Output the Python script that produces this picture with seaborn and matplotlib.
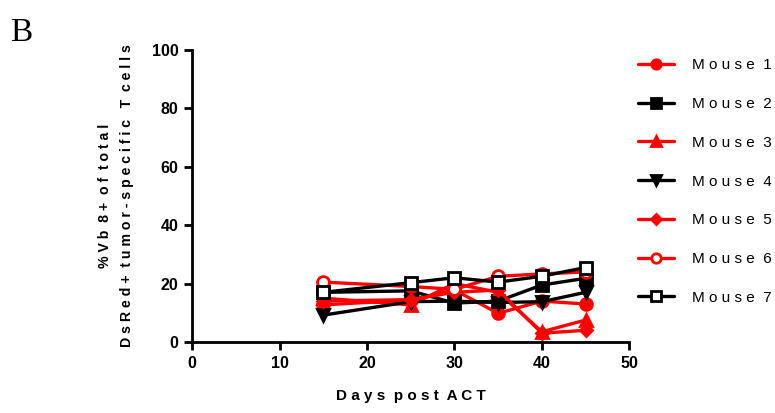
import pandas as pd
import matplotlib
matplotlib.use("Agg")
import matplotlib.pyplot as plt
import seaborn as sns

# ----------------------------------------------------
# Data
# ----------------------------------------------------
days = [15, 25, 30, 35, 40, 45]
mouse_1 = [12.7, 14.4, 17.8, 9.8, 14.0, 13.0]
mouse_2 = [17.0, 17.5, 13.3, 14.0, 19.5, 21.8]
mouse_3 = [15.0, 12.7, 20.0, 17.0, 3.5, 7.5]
mouse_4 = [9.2, 13.8, 14.0, 13.5, 13.8, 17.0]
mouse_5 = [14.0, 14.5, 17.0, 17.8, 3.0, 4.0]
mouse_6 = [20.5, 19.0, 18.0, 22.5, 23.3, 24.0]
mouse_7 = [17.0, 20.3, 22.0, 20.5, 22.5, 25.5]

series = {
    "Mouse 1": mouse_1,
    "Mouse 2": mouse_2,
    "Mouse 3": mouse_3,
    "Mouse 4": mouse_4,
    "Mouse 5": mouse_5,
    "Mouse 6": mouse_6,
    "Mouse 7": mouse_7,
}

rows = []
for name, vals in series.items():
    for d, v in zip(days, vals):
        rows.append({"Mouse": name, "Day": d, "Pct": v})
df = pd.DataFrame(rows)

# ----------------------------------------------------
# Styling
# ----------------------------------------------------
sns.set_style("ticks")
plt.rcParams["font.family"] = ["Liberation Sans", "DejaVu Sans"]
plt.rcParams["axes.linewidth"] = 2.0
plt.rcParams["axes.edgecolor"] = "black"
plt.rcParams["xtick.color"] = "black"
plt.rcParams["ytick.color"] = "black"
plt.rcParams["text.color"] = "black"
plt.rcParams["axes.labelcolor"] = "black"

styles = {
    "Mouse 1": dict(color="#ff0000", marker="o", mfc="#ff0000"),
    "Mouse 2": dict(color="#000000", marker="s", mfc="#000000"),
    "Mouse 3": dict(color="#ff0000", marker="^", mfc="#ff0000"),
    "Mouse 4": dict(color="#000000", marker="v", mfc="#000000"),
    "Mouse 5": dict(color="#ff0000", marker="D", mfc="#ff0000"),
    "Mouse 6": dict(color="#ff0000", marker="o", mfc="white"),
    "Mouse 7": dict(color="#000000", marker="s", mfc="white"),
}

fig = plt.figure(figsize=(7.75, 4.13), dpi=100)
ax = fig.add_axes([0.248, 0.172, 0.564, 0.707])

for name in series:
    st = styles[name]
    sub = df[df["Mouse"] == name]
    msize = 6.5 if st["marker"] == "D" else 8.5
    sns.lineplot(
        data=sub, x="Day", y="Pct", ax=ax, color=st["color"],
        marker=st["marker"], markersize=msize, markerfacecolor=st["mfc"],
        markeredgecolor=st["color"], markeredgewidth=2.0,
        linewidth=2.4, label=name,
    )

ax.set_xlim(0, 50)
ax.set_ylim(0, 100)
ax.set_xticks(range(0, 51, 10))
ax.set_yticks(range(0, 101, 20))
ax.tick_params(width=2, length=6, labelsize=11.5, pad=4)
for lbl in ax.get_xticklabels() + ax.get_yticklabels():
    lbl.set_fontweight("bold")
sns.despine(ax=ax)

ax.set_xlabel("D a y s  p o s t  A C T", fontsize=11, fontweight="bold", labelpad=13)
ax.set_ylabel("% V b  8 +  o f  t o t a l\nD s R e d +  t u m o r - s p e c i f i c   T  c e l l s",
              fontsize=10.2, fontweight="bold", labelpad=13, linespacing=1.7)

handles, labels = ax.get_legend_handles_labels()
ax.legend_.remove()
labels = [" ".join(l.replace(" ", "")[:-1]) + "  " + l[-1] for l in labels]
fig.legend(handles, labels, loc="upper left", bbox_to_anchor=(0.812, 0.881),
           frameon=False, fontsize=11, labelspacing=1.62, handlelength=2.3,
           handletextpad=1.2, markerscale=0.8, borderaxespad=0.2)

fig.text(0.013, 0.9, "B", fontsize=24, family=["Liberation Serif", "DejaVu Serif"])

fig.savefig("out.png", dpi=100)
